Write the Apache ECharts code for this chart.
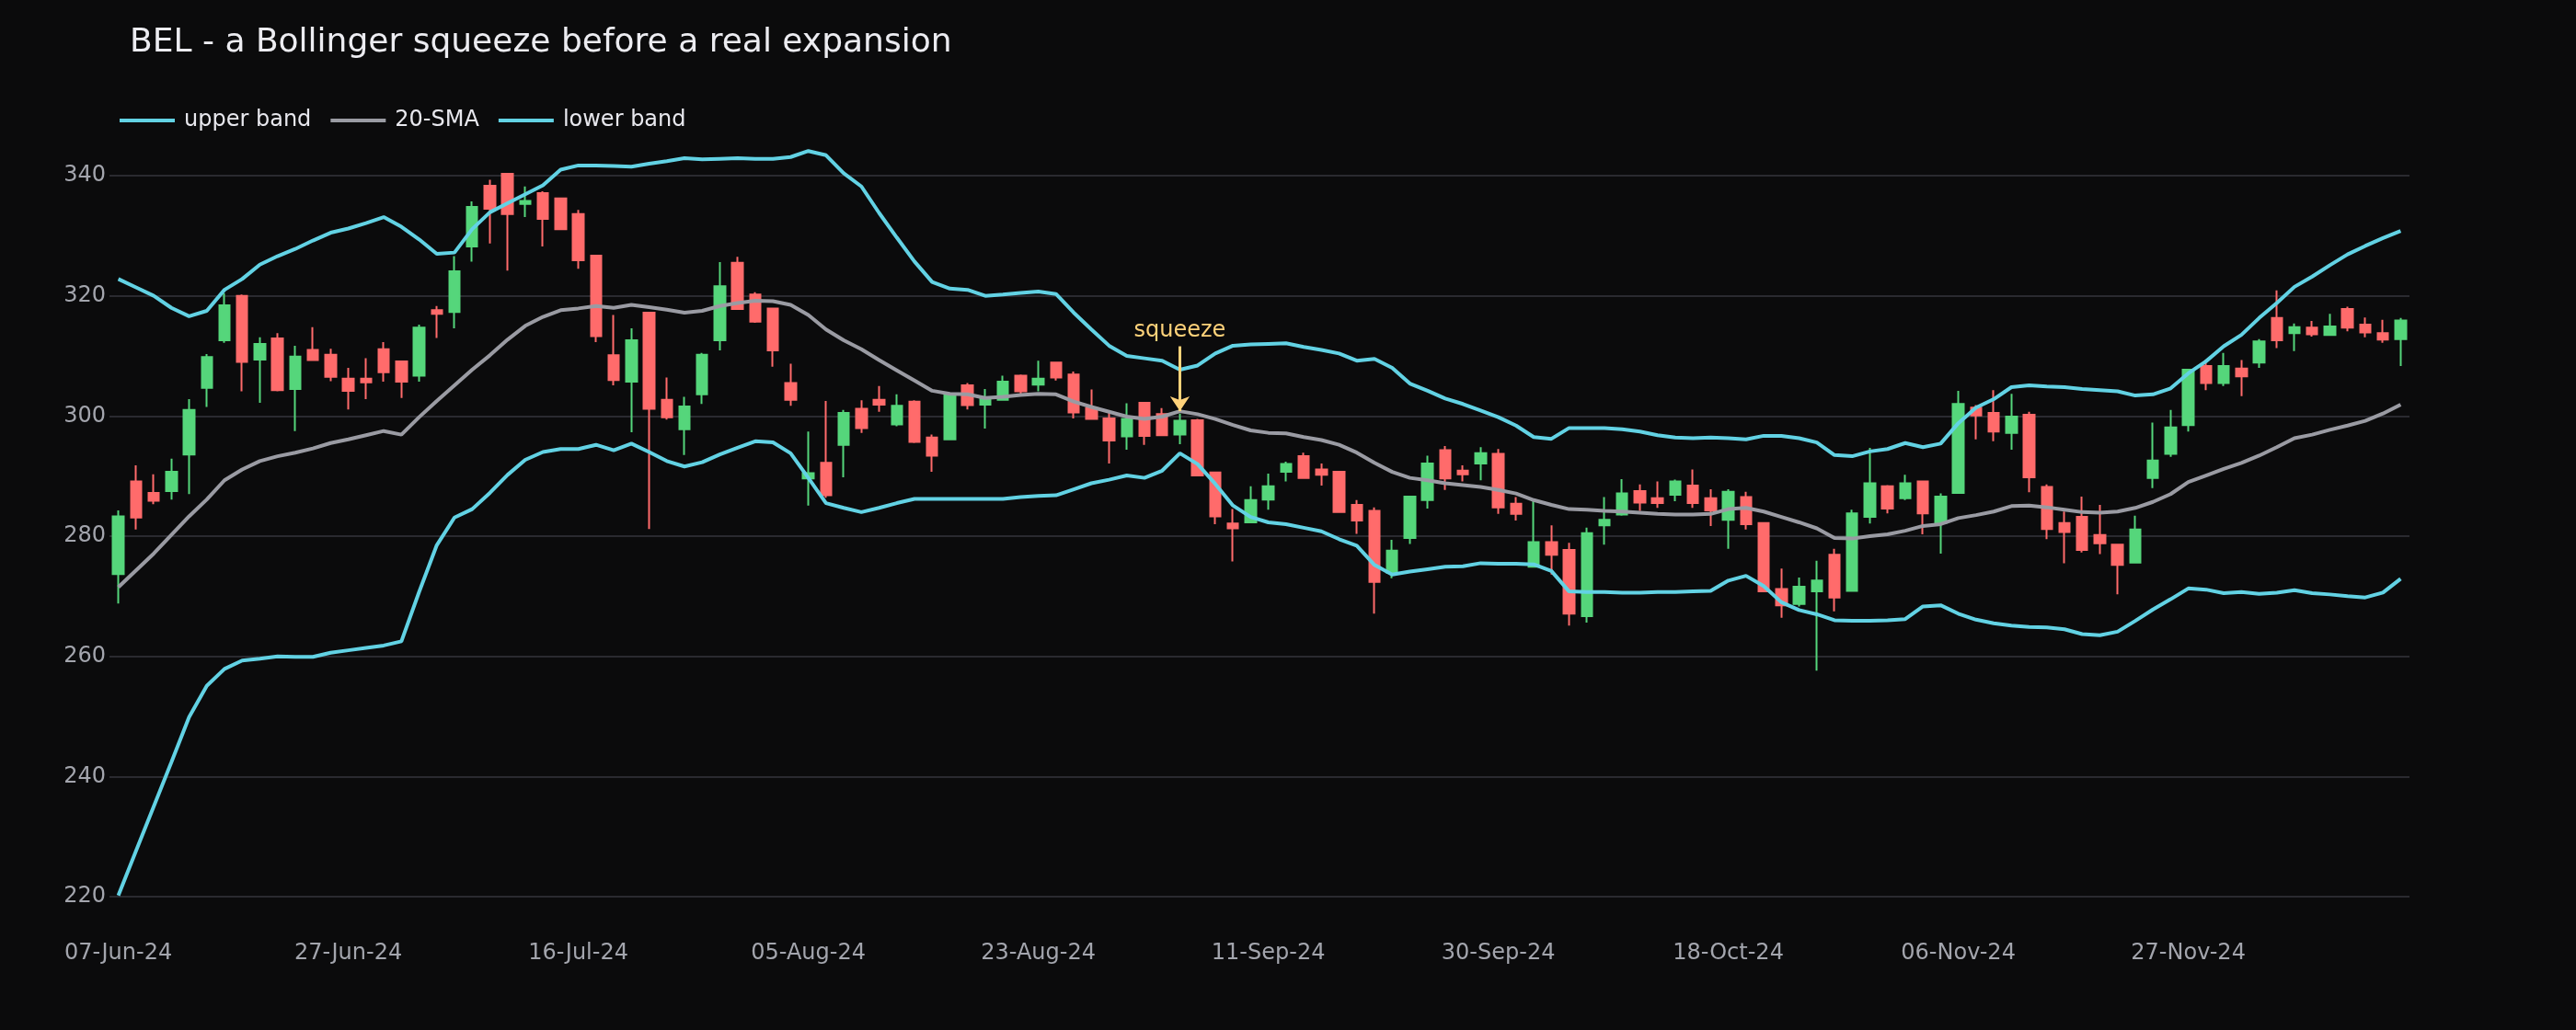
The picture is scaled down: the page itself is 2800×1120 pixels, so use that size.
<!DOCTYPE html>
<html>
<head>
<meta charset="utf-8">
<title>BEL Bollinger squeeze</title>
<script src="https://cdn.jsdelivr.net/npm/echarts@6/dist/echarts.min.js"></script>
<style>
  html, body { margin: 0; padding: 0; background: #0b0b0c; }
  #chart { width: 2800px; height: 1120px; }
</style>
</head>
<body>
<div id="chart"></div>
<script>
// trading days, 07-Jun-24 .. 13-Dec-24
const dates = [
  '07-Jun-24','10-Jun-24','11-Jun-24','12-Jun-24','13-Jun-24','14-Jun-24','18-Jun-24','19-Jun-24','20-Jun-24','21-Jun-24',
  '24-Jun-24','25-Jun-24','26-Jun-24','27-Jun-24','28-Jun-24','01-Jul-24','02-Jul-24','03-Jul-24','04-Jul-24','05-Jul-24',
  '08-Jul-24','09-Jul-24','10-Jul-24','11-Jul-24','12-Jul-24','15-Jul-24','16-Jul-24','18-Jul-24','19-Jul-24','22-Jul-24',
  '23-Jul-24','24-Jul-24','25-Jul-24','26-Jul-24','29-Jul-24','30-Jul-24','31-Jul-24','01-Aug-24','02-Aug-24','05-Aug-24',
  '06-Aug-24','07-Aug-24','08-Aug-24','09-Aug-24','12-Aug-24','13-Aug-24','14-Aug-24','16-Aug-24','19-Aug-24','20-Aug-24',
  '21-Aug-24','22-Aug-24','23-Aug-24','26-Aug-24','27-Aug-24','28-Aug-24','29-Aug-24','30-Aug-24','02-Sep-24','03-Sep-24',
  '04-Sep-24','05-Sep-24','06-Sep-24','09-Sep-24','10-Sep-24','11-Sep-24','12-Sep-24','13-Sep-24','16-Sep-24','17-Sep-24',
  '18-Sep-24','19-Sep-24','20-Sep-24','23-Sep-24','24-Sep-24','25-Sep-24','26-Sep-24','27-Sep-24','30-Sep-24','01-Oct-24',
  '03-Oct-24','04-Oct-24','07-Oct-24','08-Oct-24','09-Oct-24','10-Oct-24','11-Oct-24','14-Oct-24','15-Oct-24','16-Oct-24',
  '17-Oct-24','18-Oct-24','21-Oct-24','22-Oct-24','23-Oct-24','24-Oct-24','25-Oct-24','28-Oct-24','29-Oct-24','30-Oct-24',
  '31-Oct-24','01-Nov-24','04-Nov-24','05-Nov-24','06-Nov-24','07-Nov-24','08-Nov-24','11-Nov-24','12-Nov-24','13-Nov-24',
  '14-Nov-24','18-Nov-24','19-Nov-24','21-Nov-24','22-Nov-24','25-Nov-24','26-Nov-24','27-Nov-24','28-Nov-24','29-Nov-24',
  '02-Dec-24','03-Dec-24','04-Dec-24','05-Dec-24','06-Dec-24','09-Dec-24','10-Dec-24','11-Dec-24','12-Dec-24','13-Dec-24'
]

const opens = [
  273.7,289.1,287.2,287.5,293.6,304.7,312.6,320.0,309.4,312.9,
  304.5,311.0,310.2,306.2,306.2,311.1,309.1,306.7,317.6,317.3,
  328.2,338.3,340.3,335.3,337.1,336.2,333.6,326.7,310.1,305.7,
  317.2,302.7,297.8,303.6,312.6,325.5,320.2,317.9,305.5,289.6,
  292.2,295.2,301.2,302.7,298.6,302.4,296.4,296.1,305.1,301.9,
  302.7,306.7,305.2,308.9,306.9,301.3,299.6,296.6,302.2,300.3,
  296.9,299.3,290.6,282.1,282.3,286.1,290.7,293.3,291.1,290.7,
  285.2,284.2,273.9,279.7,286.0,294.3,290.9,292.1,293.7,285.4,
  274.9,279.0,277.7,266.7,281.8,283.6,287.5,286.3,286.9,288.4,
  286.3,282.7,286.5,282.2,271.2,268.7,270.8,276.9,270.9,283.2,
  288.3,286.3,289.1,282.2,287.2,301.4,300.5,297.2,300.2,288.2,
  282.2,283.2,280.2,278.6,275.6,289.7,293.7,298.5,308.3,305.5,
  307.9,308.9,316.3,313.8,314.7,313.5,317.8,315.2,313.8,312.8
]
const highs = [
  284.3,291.8,290.3,292.9,302.8,310.3,320.4,320.2,313.1,313.8,
  311.7,314.8,311.2,308.0,309.6,312.3,309.2,315.2,318.3,326.6,
  335.7,339.3,340.4,338.2,337.4,336.3,334.3,326.8,316.8,314.6,
  317.3,306.4,303.2,310.5,325.6,326.5,320.6,318.0,308.7,297.4,
  302.5,301.0,302.6,305.0,303.6,302.6,296.9,303.8,305.5,304.5,
  306.7,306.9,309.2,309.0,307.4,304.4,300.9,302.1,302.3,301.3,
  300.4,299.5,290.7,284.5,288.3,290.4,292.4,293.9,292.1,290.8,
  286.0,284.8,279.4,286.7,293.4,295.0,291.8,294.8,294.5,286.5,
  286.2,281.8,278.9,281.4,286.5,289.5,288.6,289.1,289.4,291.1,
  287.8,287.8,287.4,282.3,274.6,273.1,275.9,277.9,284.4,294.7,
  288.5,290.2,289.2,287.1,304.2,301.8,304.3,303.7,300.7,288.6,
  284.1,286.6,285.2,278.7,283.4,298.9,301.0,307.8,309.4,310.5,
  309.3,312.8,320.9,315.4,315.8,317.0,318.2,316.4,316.0,316.3
]
const lows = [
  268.8,281.1,285.3,286.1,287.0,301.5,312.2,304.1,302.2,304.1,
  297.5,309.2,305.8,301.1,302.8,305.7,303.0,305.7,313.0,314.6,
  325.7,328.7,324.2,333.1,328.2,331.0,324.5,312.3,305.1,297.3,
  281.2,299.4,293.5,302.0,310.9,317.7,315.5,308.2,301.7,285.1,
  286.4,289.8,297.2,300.7,298.3,295.5,290.7,296.0,301.1,297.9,
  302.6,303.7,304.1,305.9,299.6,299.4,292.1,294.4,295.2,296.7,
  295.3,290.0,282.0,275.8,282.2,284.4,289.1,289.6,288.4,283.9,
  280.4,267.1,273.0,278.7,284.6,287.7,289.1,289.3,283.7,282.6,
  274.8,273.6,265.1,265.6,278.6,283.4,284.2,284.7,285.8,284.7,
  281.7,277.9,281.1,270.7,266.4,268.3,257.6,267.5,270.8,282.1,
  283.8,286.0,280.3,277.1,287.1,296.1,295.8,294.4,287.3,279.5,
  275.5,277.3,277.0,270.3,275.5,288.0,293.2,297.4,304.3,305.0,
  303.3,308.0,311.3,310.8,313.2,313.4,314.1,313.1,312.2,308.3
]
const closes = [
  283.3,283.1,285.9,290.7,301.0,309.8,318.4,309.0,312.0,304.3,
  309.9,309.3,306.5,304.2,305.6,307.3,305.7,314.7,317.0,324.1,
  334.8,334.5,333.6,335.8,332.8,331.1,325.9,313.3,306.0,312.6,
  301.2,299.8,301.6,310.2,321.6,317.8,315.7,310.9,302.7,290.5,
  286.8,300.5,298.0,301.9,301.7,295.7,293.4,303.6,301.8,303.0,
  305.7,304.1,306.2,306.4,300.6,299.5,295.9,299.5,296.7,296.8,
  299.2,290.1,283.3,281.3,286.0,288.3,292.0,289.7,290.2,284.0,
  282.6,272.4,277.6,286.6,292.1,289.6,290.3,293.8,284.8,283.7,
  279.0,276.9,267.1,280.5,282.7,287.1,285.6,285.5,289.1,285.5,
  284.3,287.4,282.0,270.8,268.5,271.6,272.6,269.8,283.8,288.8,
  284.6,288.8,283.8,286.6,302.0,300.1,297.4,299.9,289.8,281.2,
  280.7,277.7,278.8,275.2,281.1,292.6,298.1,307.7,305.5,308.3,
  306.6,312.4,312.6,314.8,313.6,314.9,314.7,313.9,312.7,315.9
]

// Bollinger bands (20-day, 2 sd)
const upperBand = [
  322.8,321.4,320.0,318.0,316.6,317.5,321.0,322.8,325.2,326.6,
  327.8,329.2,330.5,331.2,332.1,333.1,331.5,329.4,327.0,327.2,
  331.1,333.9,335.4,336.9,338.4,341.0,341.7,341.7,341.6,341.5,
  342.0,342.4,342.9,342.7,342.8,342.9,342.8,342.8,343.1,344.1,
  343.4,340.4,338.2,333.8,329.7,325.7,322.3,321.2,321.0,320.0,
  320.2,320.5,320.7,320.3,317.2,314.4,311.7,310.0,309.6,309.2,
  307.7,308.4,310.4,311.7,311.9,312.0,312.1,311.5,311.0,310.4,
  309.2,309.5,308.0,305.4,304.2,302.9,302.0,300.9,299.8,298.4,
  296.5,296.2,298.0,298.0,298.0,297.8,297.4,296.8,296.4,296.3,
  296.4,296.3,296.1,296.7,296.7,296.3,295.6,293.5,293.3,294.1,
  294.5,295.5,294.8,295.4,298.8,301.4,302.8,304.8,305.1,304.9,
  304.8,304.5,304.3,304.1,303.4,303.6,304.6,307.1,309.1,311.6,
  313.5,316.3,318.8,321.5,323.2,325.1,326.9,328.3,329.6,330.8
]
const sma20 = [
  271.5,274.3,277.1,280.2,283.3,286.1,289.3,291.1,292.5,293.3,
  293.9,294.6,295.5,296.1,296.8,297.5,296.9,299.8,302.5,305.1,
  307.7,310.1,312.7,315.0,316.5,317.6,317.9,318.3,318.0,318.5,
  318.1,317.7,317.2,317.5,318.3,318.8,319.2,319.1,318.5,316.8,
  314.4,312.6,311.1,309.3,307.6,305.9,304.2,303.7,303.6,303.0,
  303.2,303.5,303.7,303.6,302.4,301.5,300.7,299.9,299.5,299.9,
  300.8,300.3,299.5,298.5,297.6,297.2,297.1,296.5,296.0,295.2,
  293.9,292.2,290.7,289.7,289.3,288.8,288.5,288.2,287.7,287.1,
  286.0,285.2,284.5,284.4,284.2,284.1,283.9,283.7,283.6,283.6,
  283.7,284.5,284.7,284.1,283.2,282.3,281.3,279.7,279.6,280.0,
  280.3,280.9,281.7,282.0,283.0,283.5,284.1,285.0,285.1,284.8,
  284.4,284.0,283.9,284.1,284.7,285.7,287.0,289.0,290.1,291.2,
  292.2,293.4,294.8,296.3,296.9,297.7,298.4,299.2,300.4,301.9
]
const lowerBand = [
  220.2,227.6,235.0,242.4,249.9,255.1,257.9,259.3,259.6,260.0,
  259.9,259.9,260.6,261.0,261.4,261.8,262.5,270.7,278.5,283.1,
  284.5,287.2,290.2,292.7,294.0,294.5,294.5,295.2,294.3,295.4,
  294.0,292.5,291.6,292.3,293.6,294.7,295.8,295.6,293.8,289.7,
  285.5,284.7,284.0,284.7,285.5,286.2,286.2,286.2,286.2,286.2,
  286.2,286.5,286.7,286.8,287.8,288.8,289.4,290.1,289.7,290.9,
  293.8,292.0,288.7,285.1,283.2,282.3,282.0,281.4,280.8,279.5,
  278.4,275.2,273.6,274.1,274.5,274.9,275.0,275.5,275.4,275.4,
  275.3,274.2,270.8,270.7,270.7,270.6,270.6,270.7,270.7,270.8,
  270.9,272.6,273.4,271.7,269.0,267.7,267.0,266.0,265.9,265.9,
  266.0,266.2,268.3,268.5,267.1,266.1,265.5,265.1,264.9,264.8,
  264.5,263.7,263.5,264.1,265.9,267.8,269.5,271.3,271.1,270.5,
  270.7,270.4,270.6,271.0,270.5,270.3,270.0,269.8,270.6,272.9
]

// squeeze annotation
const squeezeIndex = 60
const squeezeText = 'squeeze'

const FONT = 'DejaVu Sans'
const BAND_COLOR = '#62d2e4'
const SMA_COLOR = '#9a9ba3'
const UP_COLOR = '#55d67b'
const DOWN_COLOR = '#ff6b6b'
const NOTE_COLOR = '#ffd27a'

const chart = echarts.init(document.getElementById('chart'))

// ECharts candlestick order: [open, close, low, high]
const candleData = dates.map((d, i) => [opens[i], closes[i], lows[i], highs[i]])

const lineSeries = (name, data, color) => ({
  name,
  type: 'line',
  data,
  symbol: 'none',
  clip: false,
  z: 3,
  itemStyle: { color },
  lineStyle: { color, width: 4 }
})

const smaSeries = lineSeries('20-SMA', sma20, SMA_COLOR)
smaSeries.markLine = {
  silent: true,
  symbol: ['none', 'arrow'],
  symbolSize: 16,
  lineStyle: { color: NOTE_COLOR, width: 3, type: 'solid' },
  label: {
    show: true,
    position: 'start',
    formatter: squeezeText,
    color: NOTE_COLOR,
    fontSize: 24,
    fontFamily: FONT
  },
  emphasis: { disabled: true },
  data: [[
    { coord: [dates[squeezeIndex], sma20[squeezeIndex] + 10.8] },
    { coord: [dates[squeezeIndex], sma20[squeezeIndex]] }
  ]]
}

const option = {
  backgroundColor: '#0b0b0c',
  animation: false,
  textStyle: { fontFamily: FONT },
  title: {
    text: 'BEL - a Bollinger squeeze before a real expansion',
    left: 141,
    top: 29,
    padding: 0,
    textStyle: { color: '#ececf1', fontSize: 36, fontWeight: 'normal', fontFamily: FONT }
  },
  legend: {
    left: 130,
    top: 119,
    padding: 0,
    itemWidth: 60,
    itemHeight: 4,
    itemGap: 21,
    icon: 'rect',
    data: ['upper band', '20-SMA', 'lower band'],
    textStyle: { color: '#e8e8ee', fontSize: 24, fontFamily: FONT, padding: [0, 0, 0, 5] }
  },
  grid: { left: 119, right: 181, top: 191, bottom: 145 },
  xAxis: {
    type: 'category',
    data: dates,
    boundaryGap: true,
    axisLine: { show: false },
    axisTick: { show: false },
    splitLine: { show: false },
    axisLabel: { interval: 12, color: '#a3a5ad', fontSize: 24, fontFamily: FONT, margin: 50 }
  },
  yAxis: {
    type: 'value',
    min: 220,
    max: 340,
    interval: 20,
    axisLine: { show: false },
    axisTick: { show: false },
    axisLabel: { color: '#a3a5ad', fontSize: 24, fontFamily: FONT, margin: 4 },
    splitLine: { lineStyle: { color: '#2a2a30', width: 2 } }
  },
  series: [
    {
      name: 'BEL',
      type: 'candlestick',
      data: candleData,
      barWidth: 12,
      clip: false,
      z: 2,
      itemStyle: {
        color: UP_COLOR,
        color0: DOWN_COLOR,
        borderColor: UP_COLOR,
        borderColor0: DOWN_COLOR,
        borderWidth: 2
      }
    },
    lineSeries('upper band', upperBand, BAND_COLOR),
    smaSeries,
    lineSeries('lower band', lowerBand, BAND_COLOR)
  ]
}

chart.setOption(option)

window.addEventListener('resize', () => chart.resize())
</script>
</body>
</html>
